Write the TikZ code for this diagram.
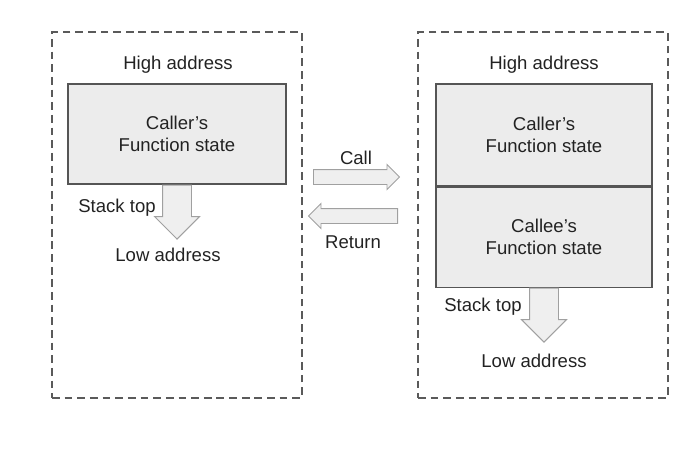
\documentclass[tikz,border=0pt]{standalone}
\usepackage{fontspec}
\setmainfont{Liberation Sans}
\usepackage{tikz}
\usetikzlibrary{positioning,shapes.arrows}
\definecolor{frameink}{HTML}{5a5a5a}
\definecolor{boxink}{HTML}{555555}
\definecolor{boxbg}{HTML}{ececec}
\definecolor{arrink}{HTML}{a0a0a0}
\definecolor{arrbg}{HTML}{efefef}
\definecolor{txt}{HTML}{222222}

\begin{document}
\begin{tikzpicture}[
  font=\fontsize{13.2}{15.6}\selectfont,
  text=txt,
  frame/.style={draw=frameink,line width=0.9pt,dash pattern=on 5.5pt off 3.5pt,minimum width=6.25cm,minimum height=9.15cm,inner sep=0pt},
  state/.style={draw=boxink,line width=0.8pt,fill=boxbg,align=center,minimum width=5.45cm,minimum height=2.5cm,inner sep=0pt},
  blockarr/.style={single arrow,draw=arrink,fill=arrbg,line width=0.7pt,single arrow head indent=0pt,anchor=tail},
  downarr/.style={blockarr,shape border rotate=270,inner sep=0.35cm,single arrow head extend=0.2cm,minimum height=1.35cm},
  sidearr/.style={blockarr,inner sep=0.175cm,single arrow head extend=0.125cm}]
  \useasboundingbox (0,0) rectangle (17.175,-11.375);
  % caller only
  \node[frame] (before) at (4.425,-5.375) {};
  \node (hi1) at (4.45,-1.625) {High address};
  \node[state] (caller1) at (4.425,-3.35) {Caller's\\Function state};
  \node[downarr] (top1) at (caller1.south) {};
  \node (st1) at (2.925,-5.2) {Stack top};
  \node (lo1) at (4.2,-6.38) {Low address};
  % caller + callee
  \node[frame] (after) at (13.575,-5.375) {};
  \node (hi2) at (13.6,-1.625) {High address};
  \node[state,minimum width=5.4cm,minimum height=2.55cm] (caller2) at (13.6,-3.375) {Caller's\\Function state};
  \node[state,minimum width=5.4cm,below=0pt of caller2] (callee) {Callee's\\Function state};
  \node[downarr] (top2) at (callee.south) {};
  \node (st2) at (12.075,-7.68) {Stack top};
  \node (lo2) at (13.35,-9.03) {Low address};
  % call / return
  \node[sidearr,minimum height=2.15cm] (call) at (7.825,-4.425) {};
  \node[sidearr,minimum height=2.225cm,shape border rotate=180] (ret) at (9.95,-5.4) {};
  \node (calltxt) at (8.9,-3.95) {Call};
  \node (rettxt) at (8.825,-6.05) {Return};
\end{tikzpicture}
\end{document}
